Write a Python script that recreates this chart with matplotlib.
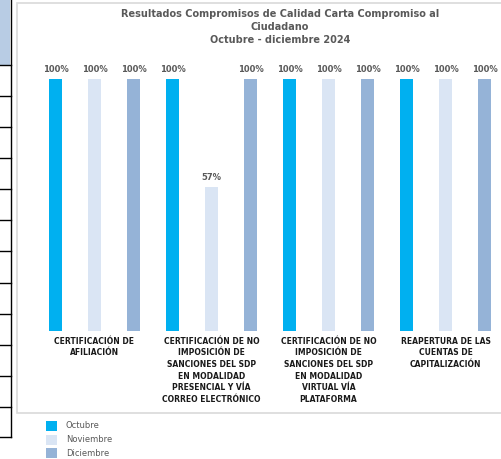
import matplotlib.pyplot as plt
from matplotlib.patches import Rectangle
from matplotlib.lines import Line2D
import numpy as np

# datos
categorias = ["CERTIFICACIÓN DE\nAFILIACIÓN",
              "CERTIFICACIÓN DE NO\nIMPOSICIÓN DE\nSANCIONES DEL SDP\nEN MODALIDAD\nPRESENCIAL Y VÍA\nCORREO ELECTRÓNICO",
              "CERTIFICACIÓN DE NO\nIMPOSICIÓN DE\nSANCIONES DEL SDP\nEN MODALIDAD\nVIRTUAL VÍA\nPLATAFORMA",
              "REAPERTURA DE LAS\nCUENTAS DE\nCAPITALIZACIÓN"]
meses = ["Octubre", "Noviembre", "Diciembre"]
octubre = [100, 100, 100, 100]
noviembre = [100, 57, 100, 100]
diciembre = [100, 100, 100, 100]
series = [octubre, noviembre, diciembre]
colores = ["#00B0F0", "#DAE5F4", "#95B3D7"]

W, H = 501, 459
fig = plt.figure(figsize=(W / 100, H / 100), dpi=100)

def fx(px):
    return px / W

def fy(py):
    return 1 - py / H

# restos de la hoja de calculo a la izquierda
fig.patches.append(Rectangle((0, fy(65)), fx(10), 65 / H, transform=fig.transFigure,
                             facecolor="#B8CCE4", edgecolor="none"))
fig.lines.append(Line2D([fx(10.5), fx(10.5)], [fy(0), fy(437)], transform=fig.transFigure,
                        color="black", lw=1))
for yy in [65, 96, 127, 158, 189, 220, 251, 283, 314, 345, 376, 407, 437]:
    fig.lines.append(Line2D([0, fx(11)], [fy(yy), fy(yy)], transform=fig.transFigure,
                            color="black", lw=1))

# borde del grafico (por debajo de los ejes)
fig.patches.append(Rectangle((fx(17), fy(413)), fx(500), (413 - 3) / H, transform=fig.transFigure,
                             facecolor="white", edgecolor="#D9D9D9", lw=1.2, zorder=-1))

# ejes: 0 en y=331px, 100 en y=79px; 1 unidad x = 117 px, grupo 0 centrado en 94.5 px
left_px, right_px = 17, 501
ax = fig.add_axes([fx(left_px), fy(331), fx(right_px - left_px), 252 / H])
ax.set_zorder(2)
ax.patch.set_alpha(0)
ax.set_xlim(-(94.5 - left_px) / 117, (right_px - 94.5) / 117)
ax.set_ylim(0, 100)
ax.axis("off")

x = np.arange(len(categorias))
paso = 39 / 117
ancho = 13 / 117
for i, (vals, c, nombre) in enumerate(zip(series, colores, meses)):
    pos = x + (i - 1) * paso
    ax.bar(pos, vals, width=ancho, color=c, label=nombre)
    for p, v in zip(pos, vals):
        ax.text(p, v + 2, f"{v}%", ha="center", va="bottom", fontsize=6,
                fontweight="bold", color="#595959", clip_on=False)

for xi, cat in zip(x, categorias):
    ax.text(xi, -2.3, cat, ha="center", va="top", fontsize=5.5, fontweight="bold",
            color="#1a1a1a", linespacing=1.38, clip_on=False)

fig.text(fx(280), fy(9), "Resultados Compromisos de Calidad Carta Compromiso al\nCiudadano\nOctubre - diciembre 2024",
         ha="center", va="top", fontsize=7, fontweight="bold", color="#595959", linespacing=1.35)

# leyenda
for i, (nombre, c) in enumerate(zip(meses, colores)):
    yy = 426 + 13.5 * i
    fig.patches.append(Rectangle((fx(46), fy(yy + 5)), fx(11), 10 / H, transform=fig.transFigure,
                                 facecolor=c, edgecolor="none"))
    fig.text(fx(66), fy(yy), nombre, ha="left", va="center", fontsize=6, color="#595959")

fig.savefig("out.png", dpi=100)
